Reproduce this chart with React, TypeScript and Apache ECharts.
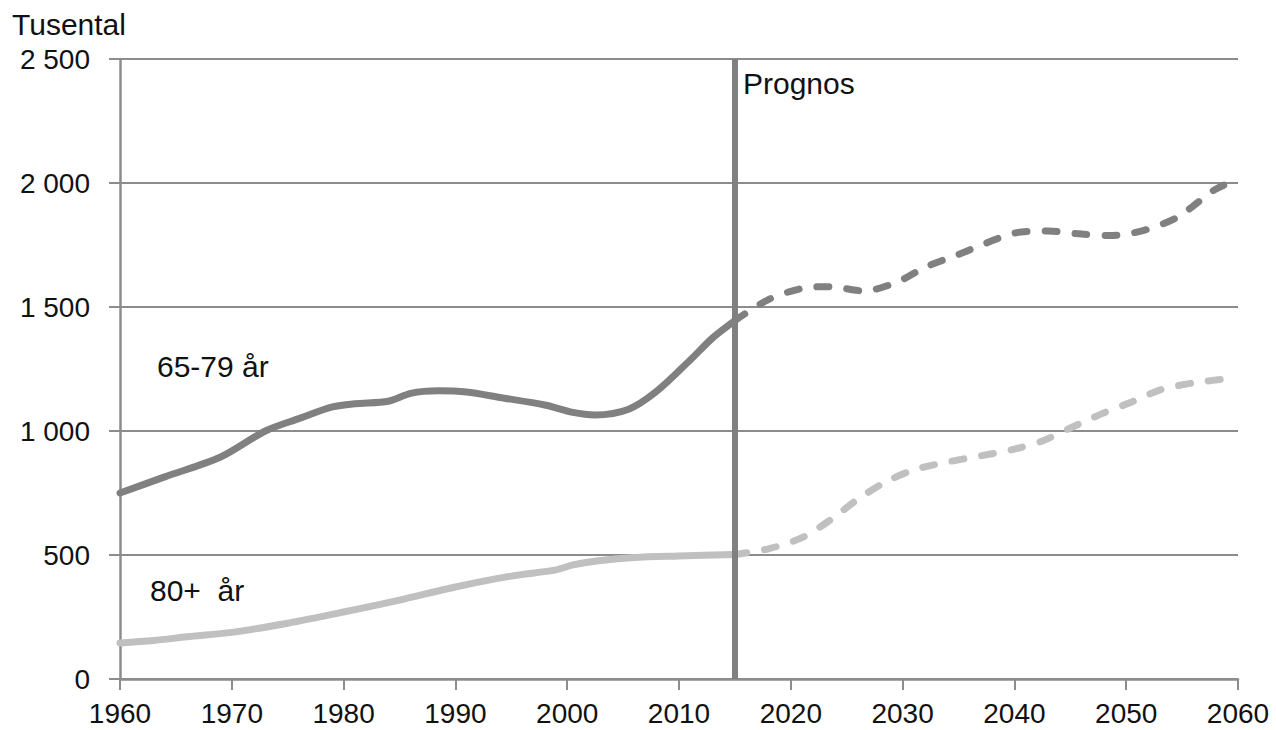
import React, { useEffect, useRef } from "react";
import * as echarts from "echarts";

// Tick labels / axis
const yTicks = [0, 500, 1000, 1500, 2000, 2500];
const xTicks = [1960, 1970, 1980, 1990, 2000, 2010, 2020, 2030, 2040, 2050, 2060];
const forecastStart = 2015;

// 65-79 år (observed)
const years65Hist = [1960, 1964, 1969, 1973, 1976, 1979, 1981, 1984, 1986, 1988.5, 1991, 1994, 1998, 2000.5, 2002.5, 2005.5, 2008, 2011, 2013, 2015];
const values65Hist = [750, 815, 895, 1000, 1050, 1097, 1110, 1120, 1152, 1162, 1157, 1135, 1105, 1075, 1065, 1088, 1160, 1286, 1375, 1445];
// 65-79 år (forecast)
const years65Proj = [2015, 2018, 2021, 2023.5, 2026.5, 2029.5, 2032, 2035, 2037.5, 2040, 2043, 2046, 2048.5, 2051.5, 2054.5, 2056.5, 2058, 2060];
const values65Proj = [1445, 1530, 1575, 1582, 1565, 1600, 1660, 1712, 1758, 1798, 1806, 1794, 1788, 1808, 1860, 1925, 1975, 2015];

// 80+ år (observed)
const years80Hist = [1960, 1963, 1966, 1970, 1975, 1980, 1985, 1990, 1995, 1999, 2000.5, 2003, 2006, 2010, 2015];
const values80Hist = [145, 155, 170, 188, 225, 270, 318, 371, 415, 440, 460, 478, 490, 496, 502];
// 80+ år (forecast)
const years80Proj = [2015, 2018, 2021, 2023.5, 2026, 2028.5, 2031, 2034, 2037, 2040, 2042.5, 2045, 2048, 2050.5, 2053, 2056, 2060];
const values80Proj = [502, 525, 570, 640, 725, 795, 843, 875, 900, 927, 960, 1012, 1073, 1117, 1165, 1194, 1215];

const zip = (xs: number[], ys: number[]) => xs.map((x, i) => [x, ys[i]]);

const FONT = "'Liberation Sans', Arial, sans-serif";
const DARK = "#808080";
const LIGHT = "#c0c0c0";
const GRID = "#8c8c8c";

const fmtY = (v: number) =>
  v >= 1000 ? `${Math.floor(v / 1000)} ${String(v % 1000).padStart(3, "0")}` : String(v);
const fmtX = (v: number) => String(v);

export default function App() {
  const ref = useRef<HTMLDivElement>(null);
  useEffect(() => {
    document.body.style.margin = "0";
    const chart = echarts.init(ref.current!, null, { renderer: "svg" });
    chart.setOption({
      animation: false,
      backgroundColor: "#ffffff",
      grid: { left: 120, right: 38, top: 59, bottom: 51 },
      xAxis: {
        type: "value",
        min: xTicks[0],
        max: xTicks[xTicks.length - 1],
        interval: 10,
        axisLine: { show: true, lineStyle: { color: GRID, width: 2.5 } },
        axisTick: { show: true, length: 11, lineStyle: { color: GRID, width: 2 } },
        axisLabel: { color: "#111", fontSize: 28, fontFamily: FONT, margin: 20, formatter: fmtX },
        splitLine: { show: false },
      },
      yAxis: {
        type: "value",
        min: yTicks[0],
        max: yTicks[yTicks.length - 1],
        interval: 500,
        axisLine: { show: true, lineStyle: { color: GRID, width: 2.5 } },
        axisTick: { show: true, length: 11, lineStyle: { color: GRID, width: 2 } },
        axisLabel: { color: "#111", fontSize: 28, fontFamily: FONT, margin: 30, formatter: fmtY },
        splitLine: { show: true, lineStyle: { color: GRID, width: 2 } },
      },
      graphic: [
        { type: "text", left: 12, top: 9, style: { text: "Tusental", fontSize: 30, fontFamily: FONT, fill: "#111" } },
        { type: "text", left: 743, top: 68, style: { text: "Prognos", fontSize: 30, fontFamily: FONT, fill: "#111" } },
        { type: "text", left: 157, top: 351, style: { text: "65-79 år", fontSize: 30, fontFamily: FONT, fill: "#111" } },
        { type: "text", left: 150, top: 575, style: { text: "80+  år", fontSize: 30, fontFamily: FONT, fill: "#111" } },
      ],
      series: [
        {
          type: "line",
          name: "80+ år",
          data: zip(years80Hist, values80Hist),
          smooth: 0.3,
          showSymbol: false,
          lineStyle: { color: LIGHT, width: 7, cap: "round" },
          z: 3,
        },
        {
          type: "line",
          name: "80+ år prognos",
          data: zip(years80Proj, values80Proj),
          smooth: 0.3,
          showSymbol: false,
          lineStyle: { color: LIGHT, width: 7, type: [12, 18], cap: "round" },
          z: 3,
        },
        {
          type: "line",
          name: "65-79 år",
          data: zip(years65Hist, values65Hist),
          smooth: 0.3,
          showSymbol: false,
          lineStyle: { color: DARK, width: 7, cap: "round" },
          z: 3,
        },
        {
          type: "line",
          name: "65-79 år prognos",
          data: zip(years65Proj, values65Proj),
          smooth: 0.3,
          showSymbol: false,
          lineStyle: { color: DARK, width: 7, type: [12, 18], cap: "round" },
          z: 3,
          markLine: {
            silent: true,
            symbol: ["none", "none"],
            label: { show: false },
            lineStyle: { color: DARK, width: 6, type: "solid" },
            data: [{ xAxis: forecastStart }],
          },
        },
      ],
    });
    return () => chart.dispose();
  }, []);
  return <div ref={ref} style={{ width: 1276, height: 730 }} />;
}
